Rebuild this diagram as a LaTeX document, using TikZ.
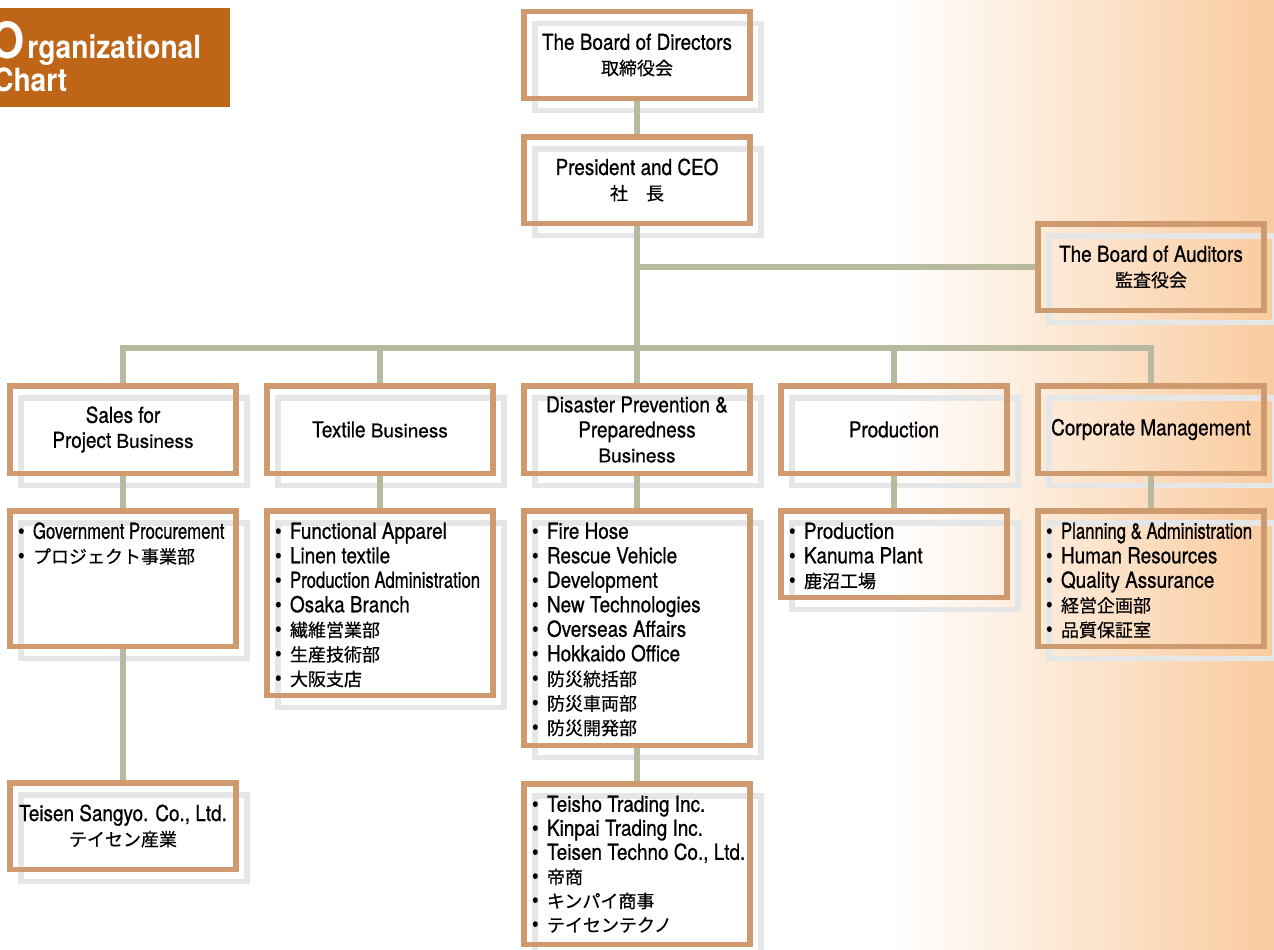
\documentclass[tikz,border=0pt]{standalone}
\usepackage{fontspec}
\setmainfont{TeX Gyre Heros}[FakeBold=0.6]
\newfontfamily\cond[FakeStretch=0.86,FakeBold=0.7]{TeX Gyre Heros}
\newfontfamily\narr[FakeStretch=0.76,FakeBold=0.7]{TeX Gyre Heros}
\newfontfamily\headfont[FakeStretch=0.88]{TeX Gyre Heros}
\newfontfamily\jp[FakeBold=0.5]{Noto Sans CJK JP}
\definecolor{boxorange}{RGB}{206,154,110}
\definecolor{boxgray}{RGB}{229,230,232}
\definecolor{wire}{RGB}{183,186,158}
\definecolor{headbrown}{RGB}{191,101,24}
\definecolor{peach}{RGB}{250,203,159}
\newcommand\jtxt[1]{{\jp\fontsize{18}{25}\selectfont #1}}
\newcommand\biz{{\rmfamily\fontsize{19}{25}\selectfont Business}}
\newcommand\bul{\hspace*{8pt}\makebox[15pt][l]{•}}
\newcommand\unitlist[2]{\parbox[c][#1][t]{226pt}{\fontsize{22}{24.5}\selectfont\raggedright\rule{0pt}{28pt}#2}}
\tikzset{
	unit/.style={draw=boxorange, line width=5.5pt, inner sep=0pt, minimum width=226pt, minimum height=86.5pt, align=center, font=\cond\fontsize{22}{25}\selectfont, preaction={draw=boxgray, transform canvas={shift={(11pt,-12pt)}}}},
	link/.style={draw=wire, line width=5.5pt}
}
\begin{document}
\begin{tikzpicture}[x=1pt,y=-1pt]
	\useasboundingbox (0,0) rectangle (1274,950);
	\fill[left color=white, right color=peach] (893,0) rectangle (1274,950);
	
	\fill[headbrown] (0,8) rectangle (230,107);
	\node[anchor=base west, inner sep=0pt, text=white, font=\headfont\bfseries\fontsize{32}{32}\selectfont] (headtop) at (-10,59) {{\fontsize{50}{50}\selectfont O}\kern3pt rganizational};
	\node[anchor=base west, inner sep=0pt, text=white, font=\headfont\bfseries\fontsize{32}{32}\selectfont] (headbottom) at (-7,92) {Chart};
	
	\node[unit] (board) at (637,55) {The Board of Directors\\\jtxt{取締役会}};
	\node[unit] (ceo) at (637,180) {President and CEO\\\jtxt{社　長}};
	\node[unit] (audit) at (1151,267) {The Board of Auditors\\\jtxt{監査役会}};
	
	\node[unit, minimum height=87.5pt] (sales) at (123,429.5) {Sales for\\Project \biz};
	\node[unit, minimum height=87.5pt] (textile) at (380,429.5) {Textile \biz};
	\node[unit, minimum height=87.5pt] (disaster) at (637,429.5) {Disaster Prevention \&\\Preparedness\\\biz};
	\node[unit, minimum height=87.5pt] (prod) at (894,429.5) {Production};
	\node[unit, minimum height=87.5pt] (corp) at (1151,429.5) {Corporate Management};
	
	\node[unit, anchor=north] (saleslist) at (123,508) {\unitlist{135.5pt}{\bul{\narr Government Procurement}\\\bul\jtxt{プロジェクト事業部}}};
	\node[unit, anchor=north] (textilelist) at (380,508) {\unitlist{184.5pt}{\bul Functional Apparel\\\bul Linen textile\\\bul{\narr Production Administration}\\\bul Osaka Branch\\\bul\jtxt{繊維営業部}\\\bul\jtxt{生産技術部}\\\bul\jtxt{大阪支店}}};
	\node[unit, anchor=north] (disasterlist) at (637,508) {\unitlist{234.5pt}{\bul Fire Hose\\\bul Rescue Vehicle\\\bul Development\\\bul New Technologies\\\bul Overseas Affairs\\\bul Hokkaido Office\\\bul\jtxt{防災統括部}\\\bul\jtxt{防災車両部}\\\bul\jtxt{防災開発部}}};
	\node[unit, anchor=north] (prodlist) at (894,508) {\unitlist{86.5pt}{\bul Production\\\bul Kanuma Plant\\\bul\jtxt{鹿沼工場}}};
	\node[unit, anchor=north] (corplist) at (1151,508) {\unitlist{135.5pt}{\bul{\narr Planning \& Administration}\\\bul Human Resources\\\bul Quality Assurance\\\bul\jtxt{経営企画部}\\\bul\jtxt{品質保証室}}};
	
	\node[unit] (sangyo) at (123,826) {Teisen Sangyo. Co., Ltd.\\\jtxt{テイセン産業}};
	\node[unit, anchor=north] (trading) at (637,781) {\unitlist{160.5pt}{\fontsize{22}{24}\selectfont\bul Teisho Trading Inc.\\\bul Kinpai Trading Inc.\\\bul Teisen Techno Co., Ltd.\\\bul\jtxt{帝商}\\\bul\jtxt{キンパイ商事}\\\bul\jtxt{テイセンテクノ}}};
	
	\coordinate (bus) at (637,348);
	\draw[link] (board) -- (ceo);
	\draw[link] (ceo) -- (disaster);
	\draw[link] (ceo.south |- audit.west) -- (audit.west);
	\draw[link] (sales.north) |- (bus) -| (corp.north);
	\foreach \u in {textile,prod}
		\draw[link] (\u.north) -- (\u.north |- bus);
	\foreach \a/\b in {sales/saleslist,textile/textilelist,disaster/disasterlist,prod/prodlist,corp/corplist,saleslist/sangyo,disasterlist/trading}
		\draw[link] (\a) -- (\b);
\end{tikzpicture}
\end{document}
